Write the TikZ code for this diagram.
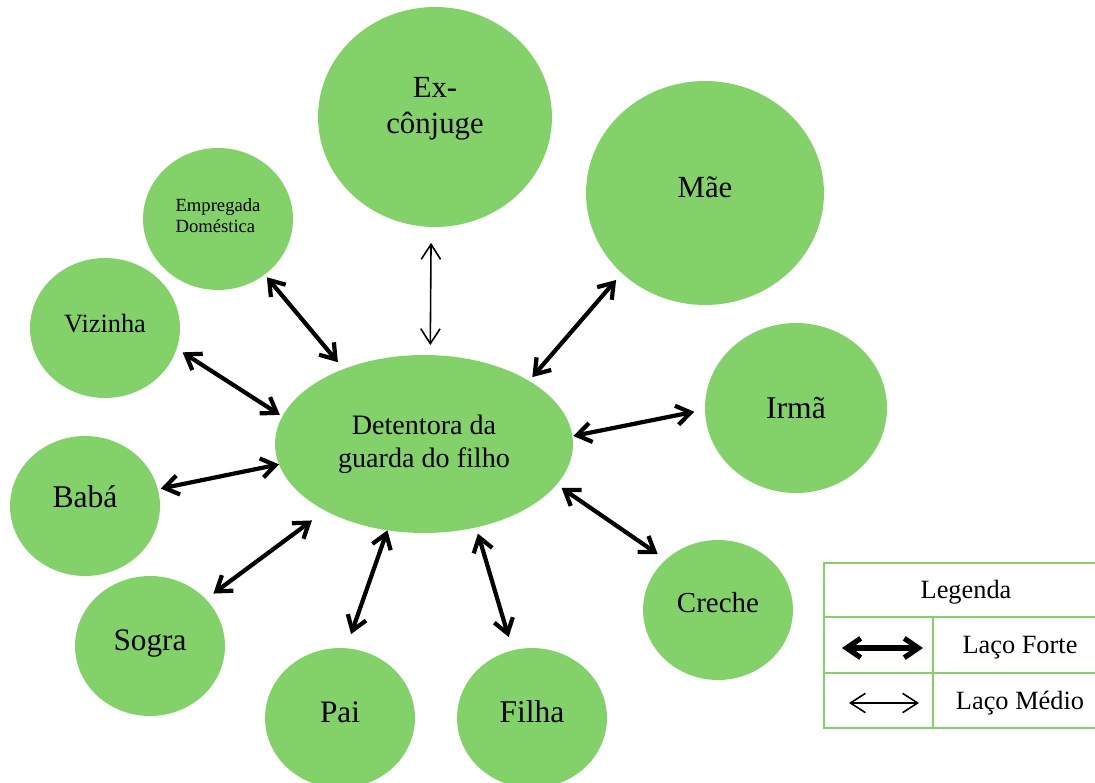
\documentclass[tikz,border=0pt]{standalone}
\usepackage{fontspec}
\setmainfont{Liberation Serif}
\usetikzlibrary{positioning,arrows.meta,shapes.geometric}

\definecolor{circgreen}{RGB}{131,210,105}

\begin{document}
\begin{tikzpicture}[x=0.02cm, y=-0.02cm,
    circ/.style={ellipse, fill=circgreen, inner sep=0pt, outer sep=0pt, align=center},
    small/.style={circ, minimum width=3cm, minimum height=2.8cm},
    forte/.style={line width=2.4pt, line cap=round, line join=round,
        {Straight Barb[length=8pt,width=11pt]}-{Straight Barb[length=8pt,width=11pt]}},
    medio/.style={line width=0.9pt,
        {Straight Barb[length=8.5pt,width=11pt]}-{Straight Barb[length=8.5pt,width=11pt]}},
    tab/.style={draw=circgreen, line width=1.2pt}]
    \useasboundingbox (0,0) rectangle (1095,783);

    % Nodes
    \node[circ, minimum width=5.96cm, minimum height=3.56cm,
        font=\fontsize{16}{18.8}\selectfont] (guarda) at (424,444) {Detentora da\\guarda do filho};
    \node[circ, minimum width=4.68cm, minimum height=4.4cm, text depth=0.46cm,
        font=\fontsize{17.5}{20.5}\selectfont] (exconj) at (435,117) {Ex-\\cônjuge};
    \node[circ, minimum width=4.76cm, minimum height=4.48cm, text depth=0.24cm,
        font=\fontsize{17.5}{21}\selectfont] (mae) at (705,193) {Mãe};
    \node[small, minimum height=2.84cm, align=left, text depth=0.14cm,
        font=\fontsize{10.6}{12.4}\selectfont] (emp) at (218,219) {Empregada\\Doméstica};
    \node[small, text depth=0.2cm, font=\fontsize{15}{18}\selectfont] (viz) at (105,328) {Vizinha};
    \node[circ, minimum width=3.64cm, minimum height=3.4cm,
        font=\fontsize{18}{21}\selectfont] (irma) at (796,408) {Irmã};
    \node[small, text depth=0.36cm, font=\fontsize{18}{21}\selectfont] (baba) at (85,506) {Babá};
    \node[small, text depth=0.32cm, font=\fontsize{16.5}{20}\selectfont] (creche) at (718,610) {Creche};
    \node[small, text depth=0.22cm, font=\fontsize{17.8}{21}\selectfont] (sogra) at (150,646) {Sogra};
    \node[small, text depth=0.24cm, font=\fontsize{17.8}{21}\selectfont] (pai) at (340,718) {Pai};
    \node[small, text depth=0.24cm, font=\fontsize{18}{21}\selectfont] (filha) at (532,718) {Filha};

    % Ties
    \draw[forte, shorten <=0.07cm, shorten >=0.18cm] (emp.310) -- (guarda.137);
    \draw[medio, shorten <=0.32cm, shorten >=0.2cm] (exconj.268) -- (guarda.86);
    \draw[forte, shorten <=0.18cm, shorten >=0.1cm] (mae.224) -- (guarda.31);
    \draw[forte, shorten <=0.14cm, shorten >=0.06cm] (viz.344) -- (guarda.169);
    \draw[forte, shorten <=0.22cm, shorten >=0.02cm] (irma.181) -- (guarda.3.5);
    \draw[forte, shorten <=0.06cm] (baba.13) -- (guarda.188);
    \draw[forte, shorten <=0.2cm, shorten >=0.12cm] (creche.136.5) -- (guarda.343);
    \draw[forte, shorten <=0.19cm, shorten >=0.33cm] (sogra.40) -- (guarda.214);
    \draw[forte, shorten <=0.3cm] (pai.85) -- (guarda.247);
    \draw[forte, shorten <=0.28cm, shorten >=0.13cm] (filha.106) -- (guarda.302);

    % Legend
    \draw[tab] (1095,563) -- (824,563) -- (824,728) -- (1095,728);
    \draw[tab] (824,617) -- (1095,617) (824,673) -- (1095,673) (933,617) -- (933,728);
    \node[anchor=base, font=\fontsize{15}{18}\selectfont] (legenda) at (966,598) {Legenda};
    \node[anchor=base, font=\fontsize{15}{18}\selectfont] (lforte) at (1020,653) {Laço Forte};
    \node[anchor=base, font=\fontsize{15}{18}\selectfont] (lmedio) at (1020,709) {Laço Médio};
    \coordinate (lf1) at (842,648);
    \coordinate (lf2) at (923,648);
    \coordinate (lm1) at (849,703);
    \coordinate (lm2) at (919,703);
    \draw[forte, line width=3pt] (lf1) -- (lf2);
    \draw[medio] (lm1) -- (lm2);
\end{tikzpicture}
\end{document}
